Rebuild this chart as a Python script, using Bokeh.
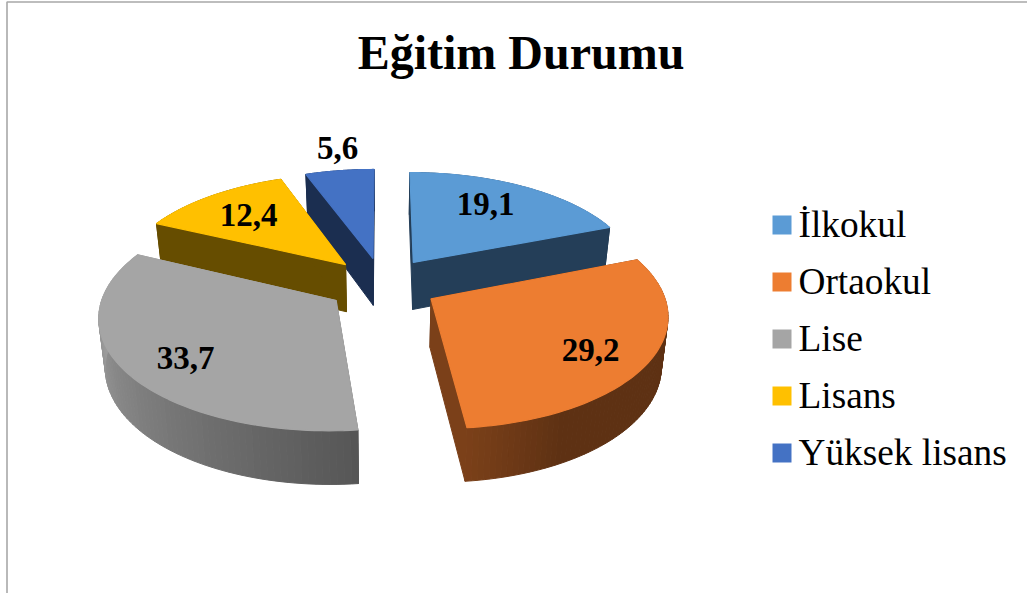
import numpy as np
from bokeh.core.properties import value
from bokeh.embed import file_html
from bokeh.models import ColumnDataSource, Range1d
from bokeh.plotting import figure
from bokeh.resources import INLINE

# ---- data ----
categories = ["İlkokul", "Ortaokul", "Lise", "Lisans", "Yüksek lisans"]
values = [19.1, 29.2, 33.7, 12.4, 5.6]
labels = ["19,1", "29,2", "33,7", "12,4", "5,6"]
title = "Eğitim Durumu"

# ---- style ----
top_colors = ["#5b9bd5", "#ed7d31", "#a5a5a5", "#ffc000", "#4472c4"]
side_colors = ["#243e58", "#5f3113", "#636363", "#664d00", "#1b2e50"]
draw_order = [4, 3, 0, 2, 1]
SERIF = value("Liberation Serif")

# ---- layout of the tilted, exploded pie (screen pixels) ----
W, H = 1027, 593
CX = 382.0
A = 232.0        # horizontal scale
KP = 0.13        # perspective strength
EXPLODE = 0.241
BACK = (283.0, 108.5, 0.98)   # centre y / vertical scale / radius for rear slices
FRONT = (284.3, 110.0, 0.992)  # same for front slices
label_xy = [(485, 203), (590, 349), (185, 357), (248, 214), (337, 147)]


def project(theta, r, mid):
    """Point on the top face: angle theta (clockwise from 12 o'clock), radius r."""
    cy, b, _ = FRONT if np.cos(mid) < 0 else BACK
    u = EXPLODE * np.sin(mid) + r * np.sin(theta)
    v = -EXPLODE * np.cos(mid) - r * np.cos(theta)
    s = 1.0 / (1.0 - KP * v)
    return CX + u * s * A, cy + v * s * b, v


def drop(x, y, v):
    """Matching point on the bottom face."""
    return CX + (x - CX) * 0.977, y + 48.0 + 5.0 * v


def mix(c1, c2, t):
    a = np.array([int(c1[i:i + 2], 16) for i in (1, 3, 5)], float)
    b = np.array([int(c2[i:i + 2], 16) for i in (1, 3, 5)], float)
    m = (a + (b - a) * t).round().astype(int)
    return "#%02x%02x%02x" % tuple(m)


def wall_color(i, theta):
    deg = np.degrees(theta)
    if i == 2:   # grey wall: light at the left, dark at the front
        return mix("#565656", "#a0a0a0", float(np.clip((deg - 174) / 100, 0, 1)))
    if i == 1:   # brown wall: warmer near the front edge
        return mix("#7b4019", "#5e3113", float(np.clip((174 - deg) / 22, 0, 1)))
    return side_colors[i]


p = figure(width=W, height=H, output_backend="svg", toolbar_location=None,
           x_range=Range1d(0, W), y_range=Range1d(H, 0), min_border=0,
           outline_line_color=None, margin=(0, 0, 0, 0))
p.axis.visible = False
p.grid.visible = False

# chart border
p.line(x=[6.5, 6.5, W], y=[H, 1.5, 1.5], line_color="#a8a8a8", line_width=1.6)

# slices
fracs = np.array(values) / sum(values) * 2 * np.pi
starts = np.concatenate([[0], np.cumsum(fracs)[:-1]])
for i in draw_order:
    t0, t1 = starts[i], starts[i] + fracs[i]
    mid = (t0 + t1) / 2
    R = (FRONT if np.cos(mid) < 0 else BACK)[2]
    th = np.linspace(t0, t1, 80)
    ax, ay, av = project(th, R, mid)
    tx, ty, tv = project(mid, 0.0, mid)
    bx, by = drop(ax, ay, av)
    tbx, tby = drop(tx, ty, tv)

    # outer wall, in short shaded strips
    xs, ys, cs = [], [], []
    for k in range(len(th) - 1):
        xs.append([ax[k], ax[k + 1], bx[k + 1], bx[k]])
        ys.append([ay[k], ay[k + 1], by[k + 1], by[k]])
        cs.append(wall_color(i, (th[k] + th[k + 1]) / 2))
    # flat cut walls
    for e in (0, -1):
        xs.append([tx, ax[e], bx[e], tbx])
        ys.append([ty, ay[e], by[e], tby])
        cs.append(wall_color(i, th[e]))
    wall = ColumnDataSource(dict(xs=xs, ys=ys, c=cs))
    p.patches("xs", "ys", source=wall, fill_color="c", line_color="c", line_width=1.0)

    # top face
    p.patch(np.r_[tx, ax], np.r_[ty, ay], fill_color=top_colors[i], line_color=top_colors[i], line_width=1.2)

# value labels
p.text(x=[q[0] for q in label_xy], y=[q[1] for q in label_xy], text=labels,
       text_font=SERIF, text_font_style="bold", text_font_size="33px",
       text_align="center", text_baseline="middle", text_color="#000000")

# title
p.text(x=[520.5], y=[52], text=[title], text_font=SERIF, text_font_style="bold",
       text_font_size="48px", text_align="center", text_baseline="middle", text_color="#000000")

# legend
leg_y = 224.5 + 57.0 * np.arange(len(categories))
p.rect(x=[781.5] * len(categories), y=leg_y, width=19, height=19, fill_color=top_colors, line_color=None)
p.text(x=[798] * len(categories), y=leg_y - 1, text=categories, text_font=SERIF, text_font_size="37.3px",
       text_align="left", text_baseline="middle", text_color="#000000")

open("out.html", "w").write(file_html(p, INLINE))
